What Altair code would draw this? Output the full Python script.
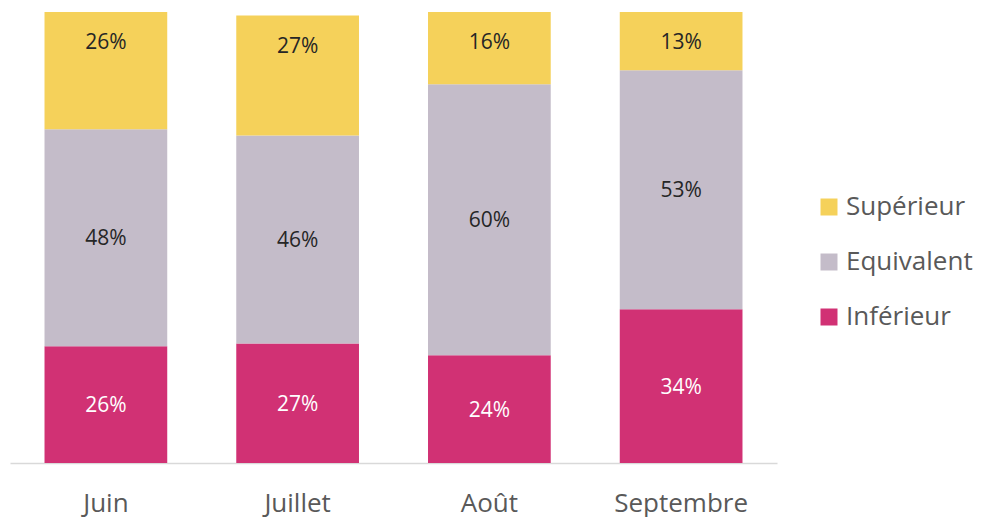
import altair as alt
import pandas as pd

months = ["Juin", "Juillet", "Août", "Septembre"]
categories = ["Supérieur", "Equivalent", "Inférieur"]
inferieur = [25.9, 26.5, 23.9, 34.1]
equivalent = [48.1, 46.1, 60.1, 53.0]
superieur = [26.0, 26.6, 16.0, 12.9]
inferieur_lbl = ["26%", "27%", "24%", "34%"]
equivalent_lbl = ["48%", "46%", "60%", "53%"]
superieur_lbl = ["26%", "27%", "16%", "13%"]
colors = ["#F5D15A", "#C4BCC9", "#D13174"]

rows = []
for i, m in enumerate(months):
    rows.append({"month": m, "cat": "Inférieur", "value": inferieur[i], "label": inferieur_lbl[i], "ord": 0})
    rows.append({"month": m, "cat": "Equivalent", "value": equivalent[i], "label": equivalent_lbl[i], "ord": 1})
    rows.append({"month": m, "cat": "Supérieur", "value": superieur[i], "label": superieur_lbl[i], "ord": 2})
df = pd.DataFrame(rows)

FONT = "Open Sans"

xenc = alt.X(
    "month:N",
    sort=months,
    scale=alt.Scale(paddingInner=0.36, paddingOuter=0.18),
    axis=alt.Axis(
        title=None,
        labelAngle=0,
        ticks=False,
        grid=False,
        domainColor="#D9D9D9",
        domainWidth=1.5,
        labelFont=FONT,
        labelFontSize=26,
        labelColor="#595959",
        labelPadding=27,
        labelBaseline="top",
    ),
)
yscale = alt.Scale(domain=[0, 100], nice=False, zero=True)

base = alt.Chart(df)

bars = base.mark_bar().encode(
    x=xenc,
    y=alt.Y("value:Q", stack="zero", scale=yscale, axis=None),
    color=alt.Color(
        "cat:N",
        scale=alt.Scale(domain=categories, range=colors),
        legend=alt.Legend(
            title=None,
            orient="none",
            legendX=806,
            legendY=182,
            symbolType="square",
            symbolSize=289,
            symbolStrokeWidth=0,
            symbolOpacity=1,
            labelFont=FONT,
            labelFontSize=26,
            labelColor="#595959",
            labelOffset=4,
            rowPadding=29,
            padding=0,
        ),
    ),
    order=alt.Order("ord:Q", sort="ascending"),
)

stacked = base.transform_stack(
    stack="value",
    groupby=["month"],
    sort=[alt.SortField("ord", order="ascending")],
    as_=["y0", "y1"],
).transform_calculate(mid="(datum.y0 + datum.y1) / 2")

txt_color = alt.condition(
    "datum.cat === 'Inférieur'", alt.value("#FFFFFF"), alt.value("#262626")
)

labels_mid = stacked.transform_filter("datum.ord < 2").mark_text(
    font=FONT, fontSize=21, baseline="middle", align="center", dy=1.5
).encode(
    x=alt.X("month:N", sort=months),
    y=alt.Y("mid:Q", scale=yscale, axis=None),
    text="label:N",
    color=txt_color,
)

labels_top = stacked.transform_filter("datum.ord == 2").mark_text(
    font=FONT, fontSize=21, baseline="middle", align="center", dy=31
).encode(
    x=alt.X("month:N", sort=months),
    y=alt.Y("y1:Q", scale=yscale, axis=None),
    text="label:N",
    color=alt.value("#262626"),
)

chart = (
    alt.layer(bars, labels_mid, labels_top)
    .properties(
        width=767,
        height=451,
        autosize=alt.AutoSizeParams(type="none"),
        padding={"left": 10, "top": 12, "right": 209, "bottom": 54},
        background="#FFFFFF",
    )
    .configure_view(stroke=None)
)

chart.save("out.html", embed_options={"renderer": "svg", "actions": False})
